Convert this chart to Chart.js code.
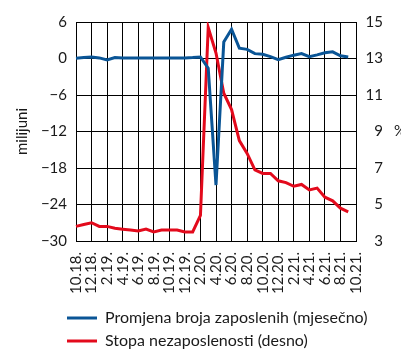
<!DOCTYPE html>
<html>
<head>
<meta charset="utf-8">
<script src="https://cdn.jsdelivr.net/npm/chart.js@4/dist/chart.umd.min.js"></script>
<style>
  html, body { margin: 0; padding: 0; background: #fff; }
  #wrap { width: 401px; height: 349px; position: relative; }
</style>
</head>
<body>
<div id="wrap"><canvas id="c" width="401" height="349"></canvas></div>
<script>
// Monthly categories, October 2018 – October 2021
const months = ['10.18.','11.18.','12.18.','1.19.','2.19.','3.19.','4.19.','5.19.','6.19.','7.19.','8.19.','9.19.',
  '10.19.','11.19.','12.19.','1.20.','2.20.','3.20.','4.20.','5.20.','6.20.','7.20.','8.20.','9.20.',
  '10.20.','11.20.','12.20.','1.21.','2.21.','3.21.','4.21.','5.21.','6.21.','7.21.','8.21.','9.21.','10.21.'];

// Monthly change in employment (millions), left axis
const employmentChange = [0.05, 0.15, 0.25, 0.1, -0.25, 0.15, 0.1, 0.1, 0.1, 0.1, 0.1, 0.1,
  0.1, 0.1, 0.1, 0.15, 0.25, -1.6, -20.8, 2.7, 4.8, 1.7, 1.5, 0.8,
  0.7, 0.3, -0.2, 0.2, 0.55, 0.8, 0.3, 0.6, 0.95, 1.1, 0.45, 0.25];

// Unemployment rate (%), right axis
const unemploymentRate = [3.8, 3.9, 4.0, 3.8, 3.8, 3.7, 3.65, 3.6, 3.55, 3.65, 3.5, 3.6,
  3.6, 3.6, 3.5, 3.5, 4.4, 14.7, 13.3, 11.1, 10.2, 8.5, 7.8, 6.9,
  6.7, 6.7, 6.3, 6.2, 6.0, 6.1, 5.8, 5.9, 5.4, 5.2, 4.8, 4.6];

const leftTicks = [-30, -24, -18, -12, -6, 0, 6];
const rightTicks = [3, 5, 7, 9, 11, 13, 15];

const seriesNames = ['Promjena broja zaposlenih (mjesečno)', 'Stopa nezaposlenosti (desno)'];
const leftTitle = 'milijuni';
const rightTitle = '%';

const BLUE = '#0a5596';
const RED = '#e30a1c';
const INK = '#1a1a1a';
const FONT = 'Lato, "Open Sans", sans-serif';

const minus = v => String(v).replace('-', '\u2212');

// Axis titles and the legend drawn on the canvas
const extras = {
  id: 'extras',
  afterDraw(chart) {
    const ctx = chart.ctx;
    const area = chart.chartArea;
    ctx.save();
    ctx.fillStyle = INK;
    ctx.font = '15px ' + FONT;
    // left axis title, rotated
    ctx.save();
    ctx.translate(22, (area.top + area.bottom) / 2);
    ctx.rotate(-Math.PI / 2);
    ctx.textAlign = 'center';
    ctx.textBaseline = 'middle';
    ctx.fillText(leftTitle, 0, 0);
    ctx.restore();
    // right axis unit
    ctx.textAlign = 'left';
    ctx.textBaseline = 'middle';
    ctx.fillText(rightTitle, 394, (area.top + area.bottom) / 2);
    // legend
    ctx.font = '16px ' + FONT;
    const rows = [318, 341];
    chart.data.datasets.forEach((ds, i) => {
      const y = rows[i];
      ctx.strokeStyle = ds.borderColor;
      ctx.lineWidth = 3;
      ctx.beginPath();
      ctx.moveTo(67, y);
      ctx.lineTo(97, y);
      ctx.stroke();
      ctx.fillStyle = INK;
      ctx.fillText(ds.label, 105, y);
    });
    ctx.restore();
  }
};

new Chart(document.getElementById('c'), {
  type: 'line',
  data: {
    labels: months,
    datasets: [
      { label: seriesNames[0], data: employmentChange, yAxisID: 'y', borderColor: BLUE,
        borderWidth: 3, pointRadius: 0, tension: 0, order: 1 },
      { label: seriesNames[1], data: unemploymentRate, yAxisID: 'y2', borderColor: RED,
        borderWidth: 3, pointRadius: 0, tension: 0, order: 2 }
    ]
  },
  options: {
    responsive: false,
    animation: false,
    devicePixelRatio: 1,
    layout: { padding: { top: 22, right: 18, bottom: 0, left: 0 } },
    plugins: { legend: { display: false }, tooltip: { enabled: false } },
    scales: {
      x: {
        offset: false,
        grid: {
          drawTicks: false,
          color: c => (c.index % 2 === 0 ? '#000' : 'rgba(0,0,0,0)'),
          lineWidth: 1
        },
        border: { color: '#000', width: 1 },
        ticks: {
          autoSkip: false,
          maxRotation: 90,
          minRotation: 90,
          padding: 11,
          color: INK,
          font: { family: FONT, size: 15 },
          callback: function (v, i) { return i % 2 === 0 ? months[i] : ''; }
        },
        afterFit: s => { s.height = 108; }
      },
      y: {
        position: 'left',
        min: -30, max: 6,
        afterBuildTicks: s => { s.ticks = leftTicks.map(v => ({ value: v })); },
        grid: { drawTicks: false, color: '#000', lineWidth: 1 },
        border: { color: '#000', width: 1 },
        ticks: { padding: 9, color: INK, font: { family: FONT, size: 15 }, callback: v => minus(v) },
        afterFit: s => { s.width = 76; }
      },
      y2: {
        position: 'right',
        min: 3, max: 15,
        afterBuildTicks: s => { s.ticks = rightTicks.map(v => ({ value: v })); },
        grid: { drawOnChartArea: false, drawTicks: false },
        border: { color: '#000', width: 1 },
        ticks: { crossAlign: 'far', color: INK, font: { family: FONT, size: 15 } },
        afterFit: s => { s.width = 27; }
      }
    }
  },
  plugins: [extras]
});
</script>
</body>
</html>
